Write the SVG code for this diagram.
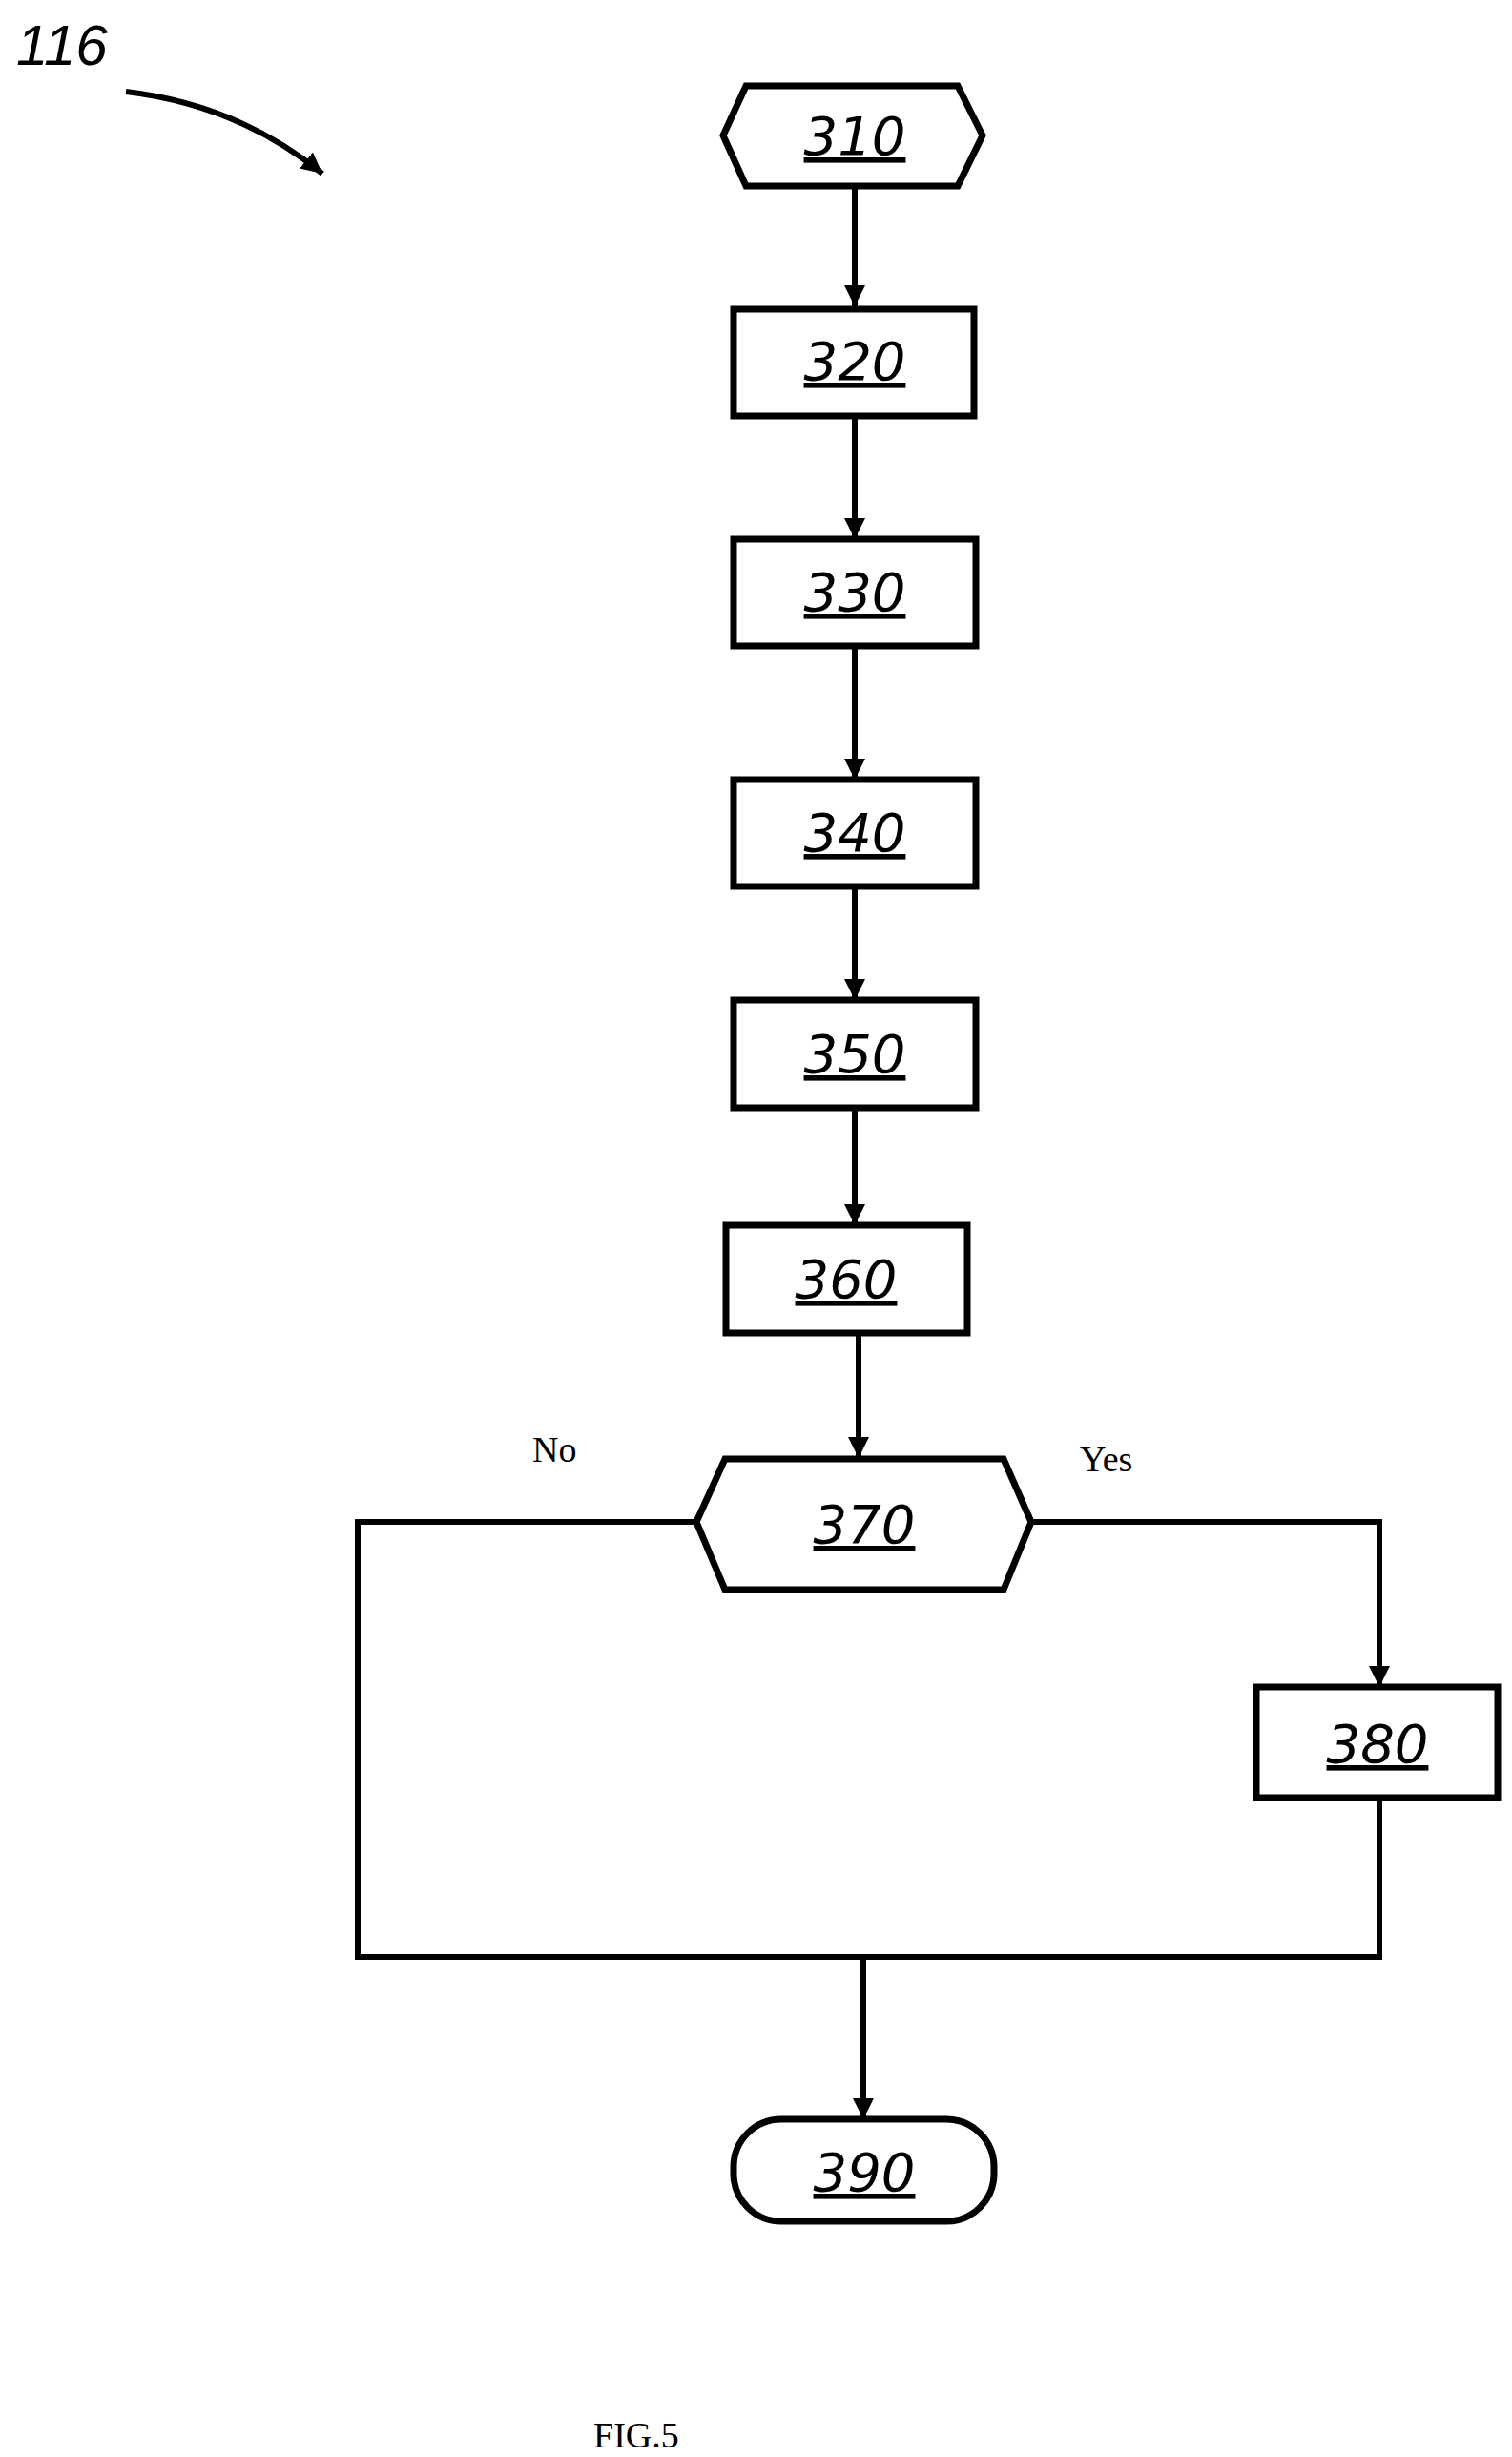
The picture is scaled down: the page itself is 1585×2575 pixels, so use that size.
<svg xmlns="http://www.w3.org/2000/svg" width="1585" height="2575" viewBox="0 0 1585 2575">
<style>
.n{fill:#fff;stroke:#000;stroke-width:7}
.t{font-family:"DejaVu Sans","Liberation Sans",sans-serif;font-style:italic;font-size:56px;text-anchor:middle;text-decoration:underline}
.c{fill:none;stroke:#000;stroke-width:6}
.l{font-family:"Liberation Serif",serif;font-size:38px}
</style>
<defs><marker id="b" viewBox="0 0 10 10" refX="10" refY="5" markerWidth="22" markerHeight="22" markerUnits="userSpaceOnUse" orient="auto"><path d="M0,0L10,5L0,10z"/></marker></defs>
<text x="17" y="68" font-family="Liberation Sans,sans-serif" font-style="italic" font-size="60">116</text>
<g id="connectors">
<path class="c" d="M132,96 Q250,110 338,182" marker-end="url(#b)"/>
<path class="c" d="M896,195V321" marker-end="url(#b)"/>
<path class="c" d="M896,436V565" marker-end="url(#b)"/>
<path class="c" d="M896,677V817" marker-end="url(#b)"/>
<path class="c" d="M896,929V1048" marker-end="url(#b)"/>
<path class="c" d="M896,1161V1284" marker-end="url(#b)"/>
<path class="c" d="M900,1397V1528" marker-end="url(#b)"/>
<path class="c" d="M1081,1595H1446V1768" marker-end="url(#b)"/>
<path class="c" d="M730,1595H375V2051H1446V1884"/>
<path class="c" d="M905,2051V2221" marker-end="url(#b)"/>
</g>
<g id="n310"><polygon class="n" points="758,142 782,90 1004,90 1030,142 1004,195 782,195"/><text class="t" x="896" y="162">310</text></g>
<g id="n320"><rect class="n" x="769" y="324" width="252" height="112"/><text class="t" x="896" y="398">320</text></g>
<g id="n330"><rect class="n" x="769" y="565" width="254" height="112"/><text class="t" x="896" y="640">330</text></g>
<g id="n340"><rect class="n" x="769" y="817" width="254" height="112"/><text class="t" x="896" y="892">340</text></g>
<g id="n350"><rect class="n" x="769" y="1048" width="254" height="113"/><text class="t" x="896" y="1124">350</text></g>
<g id="n360"><rect class="n" x="761" y="1284" width="253" height="113"/><text class="t" x="887" y="1360">360</text></g>
<g id="n370"><polygon class="n" points="730,1595 760,1529 1052,1529 1081,1595 1052,1666 760,1666"/><text class="t" x="906" y="1617">370</text></g>
<g id="n380"><rect class="n" x="1317" y="1768" width="253" height="116"/><text class="t" x="1444" y="1847">380</text></g>
<g id="n390"><rect class="n" x="769" y="2221" width="273" height="107" rx="50"/><text class="t" x="906" y="2296">390</text></g>
<text class="l" x="558" y="1532">No</text>
<text class="l" x="1132" y="1542">Yes</text>
<text class="l" x="622" y="2565">FIG.5</text>
</svg>
